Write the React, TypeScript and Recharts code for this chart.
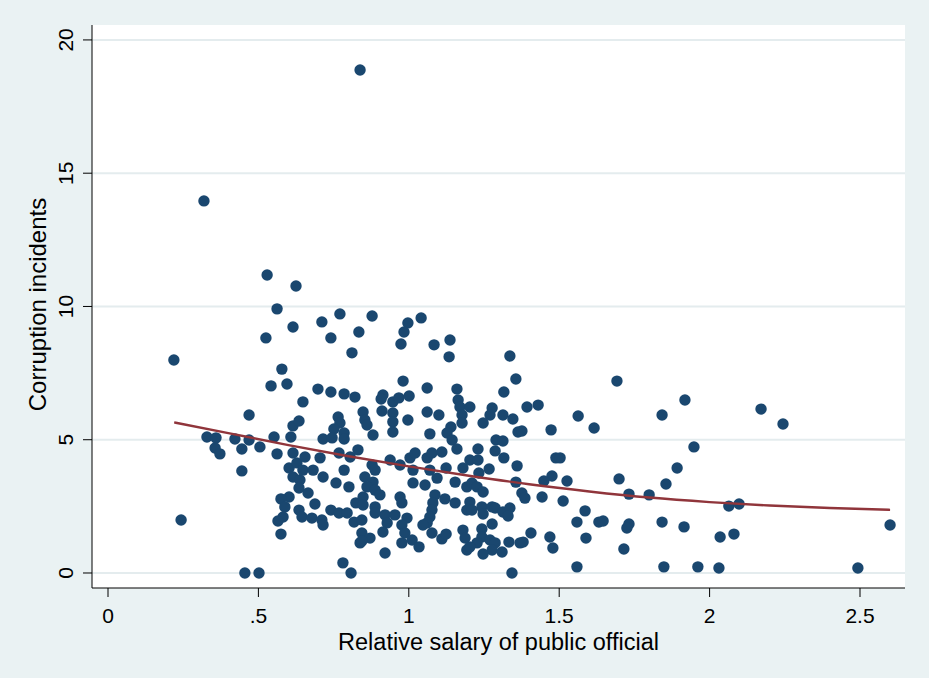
import React from 'react';
import { ScatterChart, Scatter, XAxis, YAxis, CartesianGrid, Label } from 'recharts';

// Relative salary of public official (x) for each country observation
const salary: number[] = [
  0.219, 0.243, 0.319, 0.329, 0.359, 0.356, 0.372, 0.422, 0.445, 0.469,
  0.445, 0.455, 0.469, 0.502, 0.505, 0.529, 0.625, 0.562, 0.615, 0.525,
  0.578, 0.542, 0.595, 0.552, 0.562, 0.615, 0.635, 0.608, 0.615, 0.602,
  0.628, 0.615, 0.638, 0.635, 0.602, 0.575, 0.588, 0.635, 0.582, 0.565,
  0.575, 0.648, 0.838, 0.655, 0.705, 0.648, 0.682, 0.698, 0.741, 0.785,
  0.821, 0.765, 0.771, 0.751, 0.785, 0.715, 0.745, 0.785, 0.768, 0.805,
  0.831, 0.785, 0.715, 0.758, 0.801, 0.665, 0.688, 0.741, 0.768, 0.795,
  0.824, 0.645, 0.678, 0.711, 0.715, 0.818, 0.838, 0.781, 0.808, 0.771,
  0.711, 0.878, 0.741, 0.834, 0.811, 0.997, 0.984, 1.041, 0.974, 1.084,
  1.137, 1.134, 0.981, 1.061, 1.160, 0.914, 0.908, 0.947, 0.967, 1.001,
  1.164, 1.170, 0.848, 0.911, 0.947, 1.061, 1.100, 0.854, 0.861, 0.947,
  0.997, 1.177, 1.177, 1.140, 0.947, 0.881, 1.070, 1.127, 1.144, 1.160,
  0.938, 0.971, 1.004, 1.021, 1.061, 1.077, 1.110, 0.878, 0.888, 1.014,
  1.070, 1.124, 1.180, 0.854, 0.881, 0.861, 1.014, 1.054, 1.094, 1.154,
  1.193, 0.888, 0.904, 0.971, 0.977, 0.848, 0.848, 1.087, 1.120, 1.154,
  1.080, 1.077, 0.888, 0.888, 0.921, 0.954, 0.994, 1.070, 1.061, 1.047,
  0.844, 1.193, 0.928, 0.914, 0.977, 0.987, 1.077, 1.110, 1.124, 0.844,
  0.871, 0.844, 0.977, 1.011, 1.034, 1.180, 1.187, 1.193, 0.921, 1.356,
  1.316, 1.393, 1.430, 1.203, 1.277, 1.270, 1.247, 1.313, 1.346, 1.563,
  1.363, 1.376, 1.473, 1.290, 1.313, 1.230, 1.287, 1.489, 1.503, 1.203,
  1.230, 1.316, 1.360, 1.267, 1.233, 1.476, 1.449, 1.526, 1.356, 1.210,
  1.227, 1.247, 1.376, 1.386, 1.443, 1.513, 1.203, 1.210, 1.243, 1.247,
  1.277, 1.287, 1.313, 1.336, 1.330, 1.559, 1.277, 1.243, 1.243, 1.227,
  1.270, 1.287, 1.277, 1.310, 1.333, 1.370, 1.380, 1.406, 1.469, 1.479,
  1.247, 1.203, 1.343, 1.559, 1.336, 1.616, 1.586, 1.632, 1.589, 1.692,
  1.918, 1.842, 2.171, 2.244, 1.948, 1.892, 1.699, 1.855, 1.732, 1.799,
  2.064, 2.098, 1.646, 1.732, 1.725, 1.842, 1.915, 1.715, 2.035, 2.081,
  2.600, 1.848, 1.961, 2.031, 2.493,
];

// Corruption incidents (y), same order as salary
const incidents: number[] = [
  7.99, 1.99, 13.96, 5.10, 5.07, 4.69, 4.47, 5.03, 4.65, 4.99,
  3.83, 0, 5.93, 0, 4.73, 11.18, 10.77, 9.91, 9.23, 8.82,
  7.65, 7.02, 7.09, 5.10, 4.47, 5.52, 5.70, 5.10, 4.50, 3.94,
  4.13, 3.60, 3.49, 3.19, 2.85, 2.78, 2.48, 2.36, 2.10, 1.95,
  1.46, 6.42, 18.87, 4.35, 4.32, 3.86, 3.86, 6.90, 6.79, 6.72,
  6.60, 5.85, 5.63, 5.40, 5.25, 5.03, 5.07, 5.03, 4.50, 4.35,
  4.62, 3.86, 3.60, 3.38, 3.23, 3.00, 2.59, 2.36, 2.25, 2.25,
  2.63, 2.10, 2.06, 1.99, 1.80, 1.91, 1.13, 0.38, 0, 9.72,
  9.42, 9.64, 8.82, 9.04, 8.26, 9.38, 9.04, 9.57, 8.59, 8.56,
  8.74, 8.11, 7.20, 6.94, 6.90, 6.68, 6.53, 6.42, 6.57, 6.64,
  6.49, 6.23, 6.04, 6.08, 6.00, 6.04, 5.93, 5.74, 5.55, 5.67,
  5.74, 5.93, 5.63, 5.48, 5.29, 5.18, 5.22, 5.25, 4.99, 4.65,
  4.24, 4.05, 4.32, 4.50, 4.32, 4.50, 4.54, 4.05, 3.86, 3.86,
  3.86, 3.94, 3.94, 3.60, 3.41, 3.23, 3.38, 3.30, 3.56, 3.41,
  3.23, 3.11, 2.93, 2.85, 2.63, 2.85, 2.55, 2.93, 2.78, 2.63,
  2.63, 2.36, 2.48, 2.25, 2.18, 2.18, 2.06, 2.10, 1.88, 1.80,
  1.99, 2.36, 1.88, 1.54, 1.80, 1.50, 1.50, 1.28, 1.46, 1.50,
  1.31, 1.20, 1.13, 1.24, 0.98, 1.61, 1.31, 0.86, 0.75, 7.28,
  6.79, 6.23, 6.30, 6.23, 6.19, 5.93, 5.63, 5.93, 5.78, 5.89,
  5.29, 5.33, 5.37, 4.99, 4.95, 4.65, 4.58, 4.32, 4.32, 4.24,
  4.24, 4.32, 4.02, 3.90, 3.75, 3.64, 3.45, 3.45, 3.41, 3.38,
  3.23, 3.04, 3.00, 2.81, 2.85, 2.70, 2.66, 2.36, 2.48, 2.21,
  2.48, 2.44, 2.29, 2.44, 2.14, 1.91, 1.84, 1.65, 1.35, 1.13,
  1.24, 1.13, 0.86, 0.79, 1.16, 1.13, 1.16, 1.50, 1.35, 0.94,
  0.71, 0.98, 0, 0.23, 8.14, 5.44, 2.33, 1.91, 1.31, 7.20,
  6.49, 5.93, 6.15, 5.59, 4.73, 3.94, 3.53, 3.34, 2.96, 2.93,
  2.51, 2.59, 1.95, 1.84, 1.69, 1.91, 1.73, 0.90, 1.35, 1.46,
  1.80, 0.23, 0.23, 0.19, 0.19,
];

// Fitted curve
const fitSalary: number[] = [0.22, 0.4, 0.6, 0.8, 1.0, 1.2, 1.4, 1.6, 1.8, 2.0, 2.2, 2.4, 2.6];
const fitIncidents: number[] = [5.65, 5.25, 4.8, 4.38, 4.0, 3.65, 3.33, 3.06, 2.83, 2.66, 2.53, 2.44, 2.37];

const xTicks: number[] = [0, 0.5, 1, 1.5, 2, 2.5];
const xTickLabels: string[] = ['0', '.5', '1', '1.5', '2', '2.5'];
const yTicks: number[] = [0, 5, 10, 15, 20];
const yTickLabels: string[] = ['0', '5', '10', '15', '20'];

const xTitle = 'Relative salary of public official';
const yTitle = 'Corruption incidents';

const points = salary.map((x, i) => ({ x, y: incidents[i] }));
const fit = fitSalary.map((x, i) => ({ x, y: fitIncidents[i] }));

const FONT = '"Liberation Sans", Arial, Helvetica, sans-serif';
const DOT = '#1a476f';
const FIT = '#90353b';
const BG = '#eaf2f3';

const XTick = (props: any) => {
  const { x, y, payload } = props;
  const idx = xTicks.indexOf(payload.value);
  return (
    <text x={x} y={y + 26} textAnchor="middle" fontSize={21} fontFamily={FONT} fill="#000">
      {idx >= 0 ? xTickLabels[idx] : String(payload.value)}
    </text>
  );
};

const YTick = (props: any) => {
  const { x, y, payload } = props;
  const idx = yTicks.indexOf(payload.value);
  const bx = x - 10;
  return (
    <text
      x={bx}
      y={y}
      textAnchor="middle"
      fontSize={21}
      fontFamily={FONT}
      fill="#000"
      transform={`rotate(-90, ${bx}, ${y})`}
    >
      {idx >= 0 ? yTickLabels[idx] : String(payload.value)}
    </text>
  );
};

const Dot = (props: any) => {
  const { cx, cy } = props;
  if (cx == null || cy == null) return <g />;
  return <circle cx={cx} cy={cy} r={5.7} fill={DOT} />;
};

const NoShape = () => <g />;

const XTitle = (props: any) => {
  const vb = props.viewBox || { x: 92, y: 588, width: 813, height: 90 };
  return (
    <text x={vb.x + vb.width / 2} y={vb.y + 62} textAnchor="middle" fontSize={23.5} fontFamily={FONT} fill="#000">
      {xTitle}
    </text>
  );
};

const YTitle = (props: any) => {
  const vb = props.viewBox || { x: 0, y: 25, width: 92, height: 563 };
  const cx = vb.x + 46;
  const cy = vb.y + vb.height / 2 - 2;
  return (
    <text
      x={cx}
      y={cy}
      textAnchor="middle"
      fontSize={24}
      fontFamily={FONT}
      fill="#000"
      transform={`rotate(-90, ${cx}, ${cy})`}
    >
      {yTitle}
    </text>
  );
};

export default function App() {
  return (
    <div style={{ position: 'absolute', left: 0, top: 0, width: 929, height: 678, background: BG }}>
      <ScatterChart width={929} height={678} margin={{ top: 25, right: 24, bottom: 0, left: 0 }}>
        <CartesianGrid
          fill="#ffffff"
          vertical={false}
          horizontal
          stroke="#e4ecee"
          strokeWidth={2}
          horizontalValues={yTicks}
        />
        <XAxis
          type="number"
          dataKey="x"
          domain={[-0.0532, 2.6496]}
          allowDataOverflow
          ticks={xTicks}
          interval={0}
          height={90}
          tickSize={9}
          tickMargin={0}
          tick={<XTick />}
          axisLine={{ stroke: '#000', strokeWidth: 1 }}
          tickLine={{ stroke: '#000', strokeWidth: 1 }}
        >
          <Label content={<XTitle />} />
        </XAxis>
        <YAxis
          type="number"
          dataKey="y"
          domain={[-0.563, 20.56]}
          allowDataOverflow
          ticks={yTicks}
          interval={0}
          width={92}
          tickSize={9}
          tickMargin={0}
          tick={<YTick />}
          axisLine={{ stroke: '#000', strokeWidth: 1 }}
          tickLine={{ stroke: '#000', strokeWidth: 1 }}
        >
          <Label content={<YTitle />} />
        </YAxis>
        <Scatter data={points} shape={<Dot />} isAnimationActive={false} />
        <Scatter
          data={fit}
          shape={<NoShape />}
          line={{ stroke: FIT, strokeWidth: 2.4 }}
          lineJointType="monotoneX"
          isAnimationActive={false}
        />
      </ScatterChart>
    </div>
  );
}
